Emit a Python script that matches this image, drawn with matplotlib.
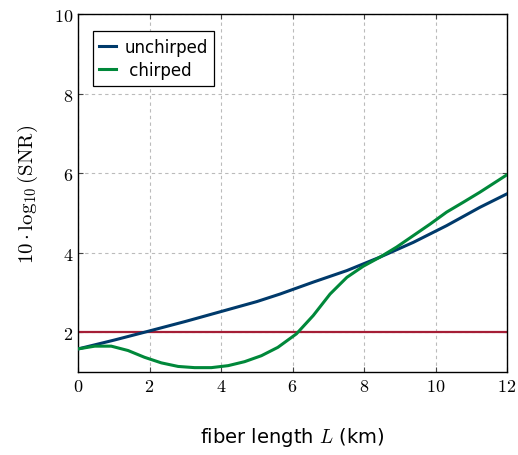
import numpy as np
import matplotlib
matplotlib.use("Agg")
from matplotlib import pyplot as plt
from matplotlib.ticker import FuncFormatter

plt.rcParams['mathtext.fontset'] = 'cm'
plt.rcParams['font.family'] = 'DejaVu Sans'

# values
L_unchirped = [0, 1.0, 1.86, 3.0, 4.0, 5.0, 5.65, 6.58, 7.52, 8.45, 9.38, 10.31, 11.24, 12]
unchirped = [1.58, 1.8, 2.0, 2.27, 2.52, 2.77, 2.96, 3.26, 3.55, 3.89, 4.26, 4.68, 5.14, 5.48]

L_chirped = [0, 0.47, 0.93, 1.40, 1.86, 2.33, 2.80, 3.26, 3.73, 4.20, 4.66, 5.13, 5.59,
             6.11, 6.58, 7.05, 7.52, 7.98, 8.45, 8.91, 9.38, 9.85, 10.31, 10.78, 11.24, 12]
chirped = [1.58, 1.65, 1.65, 1.54, 1.37, 1.23, 1.14, 1.11, 1.11, 1.16, 1.26, 1.41, 1.62,
           1.96, 2.42, 2.96, 3.38, 3.66, 3.89, 4.14, 4.43, 4.72, 5.02, 5.27, 5.52, 5.96]
threshold = 2.0

blue = '#003a6b'
green = '#00883a'
red = '#a51e36'

fig = plt.figure(figsize=(5.18, 4.56), dpi=100)
ax = fig.add_axes([0.1506, 0.182, 0.8282, 0.785])

ax.plot(L_unchirped, unchirped, color=blue, lw=2.2, label='unchirped', zorder=3,
        solid_joinstyle='round')
ax.plot(L_chirped, chirped, color=green, lw=2.2, label=' chirped', zorder=3,
        solid_joinstyle='round')
ax.axhline(threshold, color=red, lw=1.6, zorder=2)

ax.set_xlim(0, 12)
ax.set_ylim(1, 10)
ax.set_xticks(range(0, 13, 2))
ax.set_yticks(range(2, 11, 2))
fmt = FuncFormatter(lambda v, p: r'$%d$' % v)
ax.xaxis.set_major_formatter(fmt)
ax.yaxis.set_major_formatter(fmt)
ax.tick_params(direction='in', top=True, right=True, labelsize=13, length=3.5, color='#444444')
ax.grid(True, ls=(0, (3, 3)), color='#bbbbbb', lw=0.8)
for s in ax.spines.values():
    s.set_linewidth(1.0)

ax.set_xlabel(r'fiber length $L$ (km)', fontsize=14, labelpad=22)
ax.set_ylabel(r'$10\cdot\log_{10}(\mathrm{SNR})$', fontsize=15, labelpad=10)

leg = ax.legend(loc='upper left', fontsize=12, handlelength=1.0, handletextpad=0.5,
                fancybox=False, edgecolor='black', framealpha=1, borderpad=0.4,
                labelspacing=0.3, bbox_to_anchor=(0.015, 0.975))
leg.get_frame().set_linewidth(0.9)

fig.savefig('out.png', dpi=100)
